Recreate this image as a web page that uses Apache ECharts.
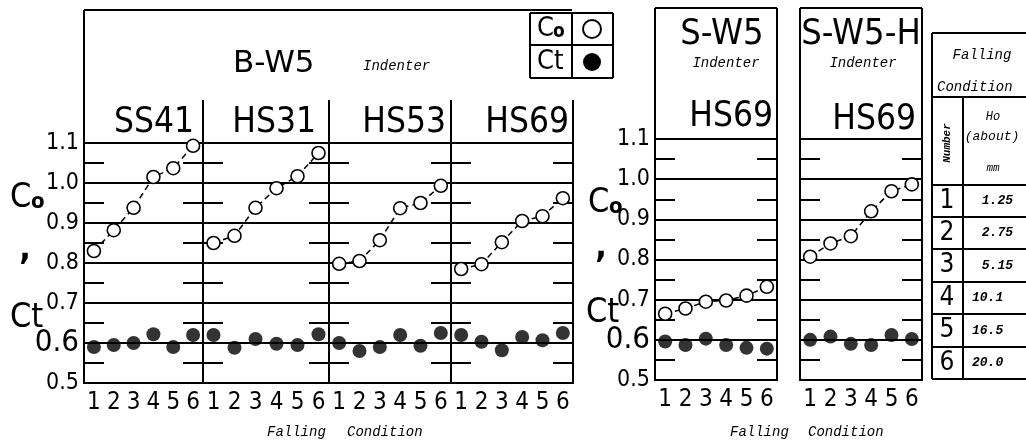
<!DOCTYPE html>
<html><head><meta charset="utf-8">
<script src="https://cdn.jsdelivr.net/npm/echarts@6/dist/echarts.min.js"></script>
<style>html,body{margin:0;padding:0;background:#fff}#c{width:1026px;height:440px}</style>
</head><body><div id="c"></div><script>
// ---------------- data ----------------
const categories = ['1','2','3','4','5','6'];
const yMin = 0.5, yMax = 1.1, yStep = 0.1;
const groupTitles = ['B-W5','S-W5','S-W5-H'];
const panelTitles = ['SS41','HS31','HS53','HS69','HS69','HS69'];
const indenterLabel = 'Indenter';
const xAxisTitle = ['Falling','Condition'];

const coSS41   = [0.830, 0.882, 0.938, 1.015, 1.037, 1.093];
const ctSS41   = [0.590, 0.595, 0.600, 0.622, 0.590, 0.620];
const coHS31   = [0.850, 0.868, 0.938, 0.987, 1.017, 1.075];
const ctHS31   = [0.620, 0.588, 0.610, 0.598, 0.595, 0.622];
const coHS53   = [0.798, 0.805, 0.857, 0.937, 0.950, 0.993];
const ctHS53   = [0.600, 0.580, 0.590, 0.620, 0.593, 0.625];
const coHS69B  = [0.785, 0.797, 0.852, 0.905, 0.917, 0.962];
const ctHS69B  = [0.620, 0.603, 0.582, 0.615, 0.607, 0.625];
const coHS69S  = [0.665, 0.678, 0.695, 0.698, 0.710, 0.732];
const ctHS69S  = [0.596, 0.587, 0.603, 0.587, 0.580, 0.578];
const coHS69SH = [0.807, 0.840, 0.858, 0.920, 0.970, 0.987];
const ctHS69SH = [0.600, 0.608, 0.590, 0.587, 0.612, 0.602];

const tableTitle = ['Falling','Condition'];
const tableHead = ['Number','Ho','(about)','mm'];
const tableNumbers = ['1','2','3','4','5','6'];
const tableHo = ['1.25','2.75','5.15','10.1','16.5','20.0'];

// ---------------- layout ----------------
const NUM = "'DejaVu Sans Condensed', 'Roboto Condensed', Roboto, sans-serif";
const MONO = "'Liberation Mono', 'DejaVu Sans Mono', monospace";
const panels = [
  {left:84,  width:119, top:143, height:240},
  {left:203, width:126, top:143, height:240},
  {left:329, width:122, top:143, height:240},
  {left:451, width:122, top:143, height:240},
  {left:655, width:122, top:139, height:241},
  {left:800, width:122, top:139, height:241}
];
const coSeries = [coSS41, coHS31, coHS53, coHS69B, coHS69S, coHS69SH];
const ctSeries = [ctSS41, ctHS31, ctHS53, ctHS69B, ctHS69S, ctHS69SH];
const labelled = [true,false,false,false,true,false];

const blk = '#000';
const grids = [], xAxes = [], yAxes = [], series = [];
panels.forEach((p, i) => {
  grids.push({left:p.left, top:p.top, width:p.width, height:p.height, containLabel:false, outerBoundsMode:'none'});
  xAxes.push({type:'category', gridIndex:i, data:categories, boundaryGap:true,
    axisLine:{show:true, onZero:false, lineStyle:{color:blk, width:2}},
    axisTick:{show:false}, splitLine:{show:false},
    axisLabel:{color:blk, fontSize:24, fontFamily:NUM, margin:8, interval:0}});
  const yBase = {type:'value', gridIndex:i, min:yMin, max:yMax, interval:yStep,
    axisLine:{show:true, onZero:false, lineStyle:{color:blk, width:2}},
    axisTick:{show:false, inside:true},
    minorTick:{show:true, splitNumber:2, length:20, lineStyle:{color:blk, width:2}},
    minorSplitLine:{show:false}};
  yAxes.push(Object.assign({}, yBase, {position:'left',
    splitLine:{show:true, lineStyle:{color:blk, width:2}},
    axisLabel:{show:labelled[i], margin:5,
      formatter: v => Math.abs(v-0.6) < 1e-9 ? '{b|0.6}' : '{n|' + v.toFixed(1) + '}',
      rich:{n:{fontSize:23, fontFamily:NUM, color:blk}, b:{fontSize:31, fontFamily:NUM, color:blk}}}}));
  yAxes.push(Object.assign({}, yBase, {position:'right', splitLine:{show:false}, axisLabel:{show:false}}));
  series.push({type:'line', name:'Co', xAxisIndex:i, yAxisIndex:2*i, data:coSeries[i],
    symbol:'circle', symbolSize:13, z:4,
    itemStyle:{color:'#fff', borderColor:blk, borderWidth:1.6},
    lineStyle:{color:blk, width:1.5, type:[6,4]}});
  series.push({type:'scatter', name:'Ct', xAxisIndex:i, yAxisIndex:2*i, data:ctSeries[i],
    symbol:'circle', symbolSize:14, z:4, itemStyle:{color:blk}});
});

// ---------------- decorations ----------------
function L(x1,y1,x2,y2,w){return {type:'line', silent:true, z:10, shape:{x1,y1,x2,y2}, style:{stroke:blk, lineWidth:w||2}};}
function T(x,y,text,font,align,valign,extra){
  return Object.assign({type:'text', x, y, silent:true, z:10, style:{text, font, fill:blk,
    align:align||'left', verticalAlign:valign||'middle', textAlign:align||'left', textVerticalAlign:valign||'middle'}}, extra||{});
}
const els = [];
// B-W5 frame
els.push(L(84,10,572,10), L(84,10,84,143));
[203,329,451,573].forEach(x => els.push(L(x,100,x,143)));
// S-W5 and S-W5-H frames
els.push(L(655,8,777,8), L(655,8,655,139), L(777,8,777,139));
els.push(L(800,8,922,8), L(800,8,800,139), L(922,8,922,139));
// group titles
els.push(T(233,64,groupTitles[0],"31px 'DejaVu Sans', sans-serif"));
els.push(T(363,66,indenterLabel,"italic 14px "+MONO));
els.push(T(722,35,groupTitles[1],"36px "+NUM,'center'));
els.push(T(726,63,indenterLabel,"italic 14px "+MONO,'center'));
els.push(T(861,35,groupTitles[2],"36px "+NUM,'center'));
els.push(T(863,63,indenterLabel,"italic 14px "+MONO,'center'));
// panel titles
const titleRight = [194,316,446,569,773,916];
const titleY = [123,123,123,123,117,120];
panelTitles.forEach((t,i) => els.push(T(titleRight[i], titleY[i], t, "35px "+NUM, 'right')));
// legend box
els.push(L(530,13,613,13), L(530,78,613,78), L(530,13,530,78), L(613,13,613,78), L(530,45,613,45), L(572,13,572,78));
els.push(T(537,29,'C',"27px "+NUM), T(553,32,'o',"bold 19px "+NUM));
els.push(T(537,62,'Ct',"27px "+NUM));
els.push({type:'circle', silent:true, z:10, shape:{cx:592, cy:29, r:9}, style:{fill:'#fff', stroke:blk, lineWidth:2}});
els.push({type:'circle', silent:true, z:10, shape:{cx:592, cy:62, r:9}, style:{fill:blk}});
// y axis titles
[[10,198,25,250,10,318],[588,203,601,248,586,313]].forEach(a => {
  els.push(T(a[0],a[1],'C',"34px "+NUM), T(a[0]+21,a[1]+4,'o',"bold 22px "+NUM));
  els.push(T(a[2],a[3],',',"bold 34px "+NUM,'center'));
  els.push(T(a[4],a[5],'Ct',"34px "+NUM));
});
// x axis titles
els.push(T(267,432,xAxisTitle[0],"italic 14px "+MONO), T(347,432,xAxisTitle[1],"italic 14px "+MONO));
els.push(T(730,432,xAxisTitle[0],"italic 14px "+MONO), T(808,432,xAxisTitle[1],"italic 14px "+MONO));
// table
const rowLines = [185,217,249,282,314,347,379];
els.push(L(932,33,932,379), L(932,33,1026,33), L(932,97,1026,97), L(963,97,963,379));
rowLines.forEach(y => els.push(L(932,y,1026,y)));
els.push(T(982,55,tableTitle[0],"italic 14px "+MONO,'center'), T(937,87,tableTitle[1],"italic 14px "+MONO));
els.push(T(947,143,tableHead[0],"italic bold 11px "+MONO,'center','middle',{rotation:Math.PI/2}));
els.push(T(993,117,tableHead[1],"italic 12px "+MONO,'center'), T(992,137,tableHead[2],"italic 13px "+MONO,'center'), T(993,168,tableHead[3],"italic 11px "+MONO,'center'));
tableNumbers.forEach((n,i) => {
  const cy = (rowLines[i]+rowLines[i+1])/2;
  els.push(T(947,cy,n,"26px "+NUM,'center'));
  const right = i < 3;
  els.push(T(right?1013:972, cy, tableHo[i], "italic bold 13px "+MONO, right?'right':'left'));
});

const chart = echarts.init(document.getElementById('c'), null, {renderer:'canvas'});
chart.setOption({
  animation:false, backgroundColor:'#fff',
  grid:grids, xAxis:xAxes, yAxis:yAxes, series:series,
  graphic:{elements:els}
});
</script></body></html>
